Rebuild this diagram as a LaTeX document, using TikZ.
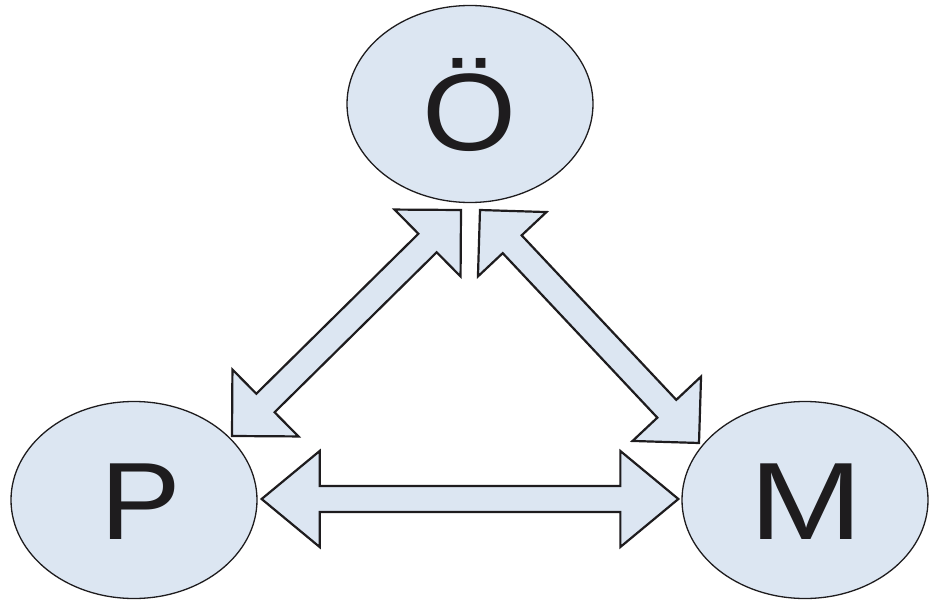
\documentclass[tikz,border=0pt]{standalone}
\usepackage{fontspec}
\setmainfont{Liberation Sans}
\usetikzlibrary{calc,shapes.geometric}

\definecolor{blobfill}{RGB}{220,230,242}
\definecolor{inkline}{RGB}{30,28,30}

% double-headed block arrow from #1 to #2, head length #3, head half-width #4
\newcommand\dblarrow[4]{%
  \draw[blockarrow]
    (#1)
    -- ($(#1)!#3!(#2)!#4!90:(#2)$)
    -- ($(#1)!#3!(#2)!\shafthalf!90:(#2)$)
    -- ($(#2)!#3!(#1)!\shafthalf!-90:(#1)$)
    -- ($(#2)!#3!(#1)!#4!-90:(#1)$)
    -- (#2)
    -- ($(#2)!#3!(#1)!#4!90:(#1)$)
    -- ($(#2)!#3!(#1)!\shafthalf!90:(#1)$)
    -- ($(#1)!#3!(#2)!\shafthalf!-90:(#2)$)
    -- ($(#1)!#3!(#2)!#4!-90:(#2)$)
    -- cycle;}
\newcommand\shafthalf{13pt}

\tikzset{
  blob/.style={ellipse, draw=inkline, line width=1.3pt, fill=blobfill,
    minimum width=246pt, minimum height=197pt, inner sep=0pt},
  letter/.style={font=\fontsize{110}{110}\selectfont, text=inkline,
    inner sep=0pt, anchor=base},
  blockarrow/.style={draw=inkline, line width=2.2pt, fill=blobfill,
    line join=miter}
}

\begin{document}
\begin{tikzpicture}[x=1pt,y=-1pt]
  \useasboundingbox (0,0) rectangle (935,602);

  % the three parties
  \node[blob] (O) at (470,104) {};
  \node[blob] (P) at (134,500) {};
  \node[blob] (M) at (805,500) {};

  \node[letter, xscale=1.1] (Ot) at (470,150) {Ö};
  \node[letter, xscale=1.1] (Pt) at (141,539) {P};
  \node[letter, xscale=1.24] (Mt) at (806,539) {M};

  % arrow tips, just outside the ellipses
  \coordinate (pr) at ($(P.east)+(4,-1)$);
  \coordinate (ml) at ($(M.west)+(-3,-1)$);
  \coordinate (pu) at (232,436);
  \coordinate (ol) at (461,210);
  \coordinate (or) at (480,210);
  \coordinate (mu) at (699,443);

  % two-way links
  \dblarrow{pr}{ml}{58pt}{48pt}
  \dblarrow{pu}{ol}{47pt}{47pt}
  \dblarrow{or}{mu}{47pt}{47pt}
\end{tikzpicture}
\end{document}
